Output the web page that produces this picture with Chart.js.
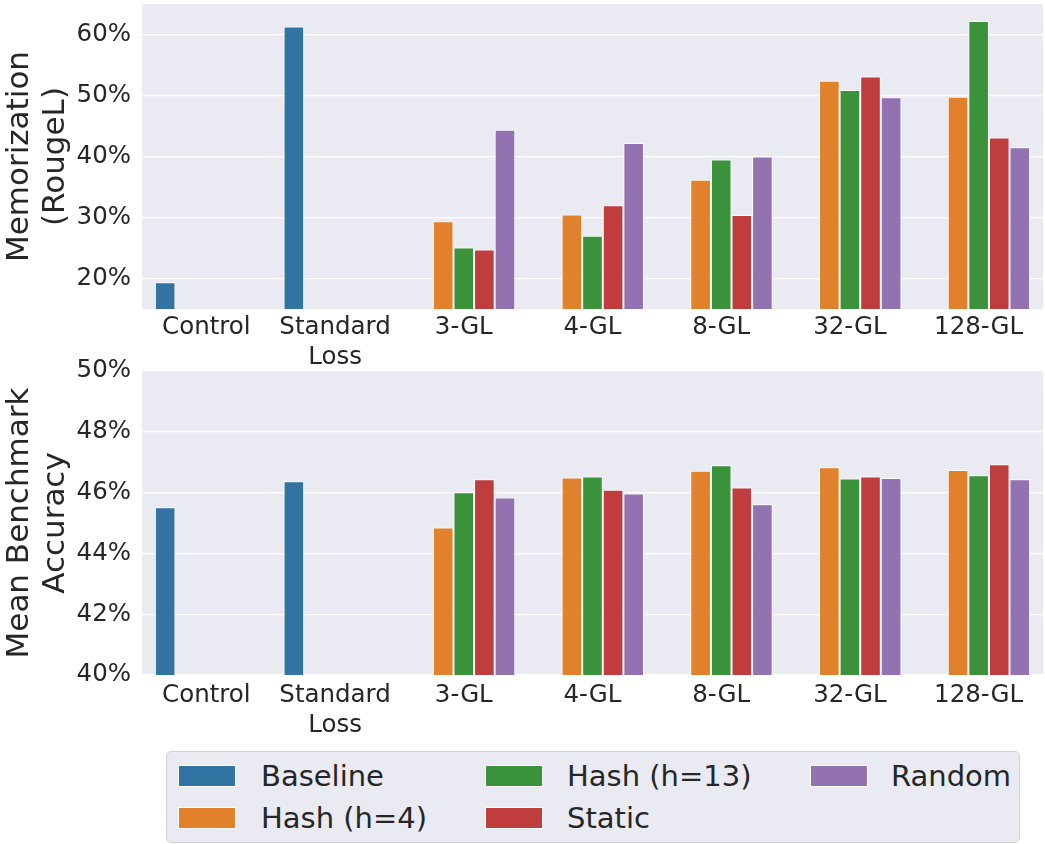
<!DOCTYPE html>
<html>
<head>
<meta charset="utf-8">
<script src="https://cdn.jsdelivr.net/npm/chart.js@4/dist/chart.umd.min.js"></script>
<style>
  html, body { margin: 0; padding: 0; background: #ffffff; }
  #wrap { position: relative; width: 1045px; height: 844px; overflow: hidden; font-family: 'DejaVu Sans', sans-serif; color: #262626; }
  canvas { position: absolute; left: 0; }
  #legend { position: absolute; left: 166px; top: 751px; width: 852px; height: 90px; background: #eaeaf2; border: 1px solid #cfcfd6; border-radius: 5px; box-sizing: content-box; }
  .sw { position: absolute; width: 56px; height: 20px; border: 1px solid #ffffff; }
  .lt { position: absolute; font-size: 29px; line-height: 34px; white-space: nowrap; color: #262626; }
</style>
</head>
<body>
<div id="wrap">
  <canvas id="top" width="1045" height="372" style="top:0px"></canvas>
  <canvas id="bot" width="1045" height="400" style="top:350px"></canvas>
  <div id="legend"></div>
</div>
<script>
// ---- data ----
const categories = [['Control'], ['Standard', 'Loss'], '3-GL', '4-GL', '8-GL', '32-GL', '128-GL'];
const seriesNames = ['Baseline', 'Hash (h=4)', 'Hash (h=13)', 'Static', 'Random'];
const seriesColors = ['#3274a1', '#e1812c', '#3a923a', '#c03d3e', '#9372b2'];

// Memorization (RougeL), %
const memBaseline = [19.4, 61.3, null, null, null, null, null];
const memHash4    = [null, null, 29.4, 30.5, 36.2, 52.4, 49.8];
const memHash13   = [null, null, 25.1, 27.0, 39.5, 50.9, 62.2];
const memStatic   = [null, null, 24.75, 32.0, 30.4, 53.1, 43.1];
const memRandom   = [null, null, 44.4, 42.2, 40.0, 49.7, 41.5];
const memTicks    = [20, 30, 40, 50, 60];

// Mean benchmark accuracy, %
const accBaseline = [45.52, 46.37, null, null, null, null, null];
const accHash4    = [null, null, 44.85, 46.50, 46.72, 46.83, 46.74];
const accHash13   = [null, null, 46.01, 46.53, 46.90, 46.46, 46.57];
const accStatic   = [null, null, 46.44, 46.09, 46.17, 46.53, 46.93];
const accRandom   = [null, null, 45.84, 45.97, 45.62, 46.48, 46.44];
const accTicks    = [40, 42, 44, 46, 48, 50];

// ---- rendering ----
const FONT = "'DejaVu Sans', sans-serif";
const TXT = '#262626';

const bgPlugin = {
  id: 'plotBg',
  beforeDraw(chart) {
    const { ctx, chartArea: a } = chart;
    ctx.save();
    ctx.fillStyle = '#eaeaf2';
    ctx.fillRect(a.left, a.top, a.right - a.left, a.bottom - a.top);
    ctx.restore();
  }
};

function makeDatasets(arrs) {
  return arrs.map((d, i) => ({
    label: seriesNames[i],
    data: d,
    backgroundColor: seriesColors[i],
    borderColor: '#ffffff',
    borderWidth: 1,
    borderSkipped: 'start',
    categoryPercentage: 0.8,
    barPercentage: 1.0
  }));
}

function makeChart(id, arrs, yMin, yMax, ticks, title, padTop, xAxisH, xPad) {
  return new Chart(document.getElementById(id), {
    type: 'bar',
    data: { labels: categories, datasets: makeDatasets(arrs) },
    options: {
      responsive: false,
      animation: false,
      devicePixelRatio: 1,
      layout: { padding: { top: padTop, right: 2, left: 0, bottom: 0 } },
      plugins: { legend: { display: false }, tooltip: { enabled: false } },
      scales: {
        x: {
          grid: { display: false, drawTicks: false },
          border: { display: false },
          ticks: { color: TXT, font: { family: FONT, size: 24.5, lineHeight: 1.22 }, padding: xPad, maxRotation: 0, autoSkip: false },
          afterFit(s) { s.height = xAxisH; s.paddingLeft = 0; s.paddingRight = 0; }
        },
        y: {
          min: yMin, max: yMax,
          grid: { color: '#ffffff', lineWidth: 1.2, drawTicks: false },
          border: { display: false },
          ticks: { color: TXT, font: { family: FONT, size: 24.5 }, padding: 11, callback: v => v + '%' },
          afterBuildTicks(s) { s.ticks = ticks.map(v => ({ value: v })); },
          title: { display: true, text: title, color: TXT, font: { family: FONT, size: 31, lineHeight: 1.17 }, padding: { top: 2, bottom: 0 } },
          afterFit(s) { s.width = 142; s.paddingTop = 0; s.paddingBottom = 0; }
        }
      }
    },
    plugins: [bgPlugin]
  });
}

makeChart('top', [memBaseline, memHash4, memHash13, memStatic, memRandom], 15, 65, memTicks,
  ['Memorization', '(RougeL)'], 4, 372 - 309, 4);
makeChart('bot', [accBaseline, accHash4, accHash13, accStatic, accRandom], 40, 50, accTicks,
  ['Mean Benchmark', 'Accuracy'], 21, 400 - 325, 6);

// ---- legend (3 columns, filled column-wise like matplotlib ncol=3) ----
const legend = document.getElementById('legend');
const colX = [11, 318, 643];
const textX = [94, 400, 724];
const rowY = [13, 55];
const textY = [7, 49];
seriesNames.forEach((name, i) => {
  const col = Math.floor(i / 2), row = i % 2;
  const sw = document.createElement('div');
  sw.className = 'sw';
  sw.style.left = colX[col] + 'px';
  sw.style.top = rowY[row] + 'px';
  sw.style.background = seriesColors[i];
  legend.appendChild(sw);
  const t = document.createElement('div');
  t.className = 'lt';
  t.style.left = textX[col] + 'px';
  t.style.top = textY[row] + 'px';
  t.textContent = name;
  legend.appendChild(t);
});
</script>
</body>
</html>
